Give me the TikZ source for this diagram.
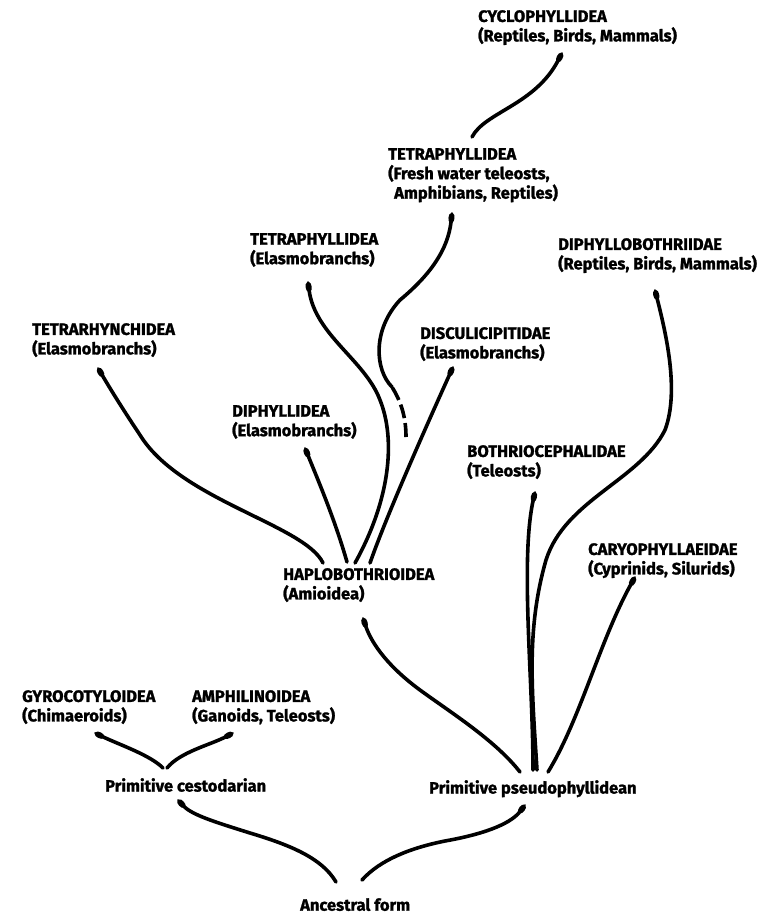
\documentclass[tikz,border=0pt]{standalone}
\usepackage{fontspec}
\setmainfont{Fira Sans}[BoldFeatures={FakeBold=1.4}]
\usetikzlibrary{arrows.meta}

\begin{document}
\begin{tikzpicture}[x=1pt,y=1pt,
  branch/.style={line width=3.6pt,line cap=round,-{Ellipse[length=10pt,width=6pt]}},
  lab/.style={anchor=north west,inner sep=0pt,align=left,
    font=\fontsize{16.5}{19.5}\selectfont\bfseries}]
\useasboundingbox (0,0) rectangle (759,-915);

\node[lab] (anc) at (300,-898) {Ancestral form};
\node[lab] (cest) at (105,-778) {Primitive cestodarian};
\node[lab] (pseudo) at (429,-780) {Primitive pseudophyllidean};
\node[lab] (gyro) at (22,-690) {GYROCOTYLOIDEA\\(Chimaeroids)};
\node[lab] (amphi) at (192,-690) {AMPHILINOIDEA\\(Ganoids, Teleosts)};
\node[lab] (haplo) at (283,-568) {HAPLOBOTHRIOIDEA\\(Amioidea)};
\node[lab] (caryo) at (588,-543) {CARYOPHYLLAEIDAE\\(Cyprinids, Silurids)};
\node[lab] (bothrio) at (467,-445) {BOTHRIOCEPHALIDAE\\(Teleosts)};
\node[lab] (diphyl) at (232,-405) {DIPHYLLIDEA\\(Elasmobranchs)};
\node[lab] (discul) at (420,-327) {DISCULICIPITIDAE\\(Elasmobranchs)};
\node[lab] (tetraR) at (32,-323) {TETRARHYNCHIDEA\\(Elasmobranchs)};
\node[lab] (tetraE) at (250,-233) {TETRAPHYLLIDEA\\(Elasmobranchs)};
\node[lab] (diphyllob) at (558,-238) {DIPHYLLOBOTHRIIDAE\\(Reptiles, Birds, Mammals)};
\node[lab] (tetraF) at (388,-148) {TETRAPHYLLIDEA\\(Fresh water teleosts,\\\hspace{6pt}Amphibians, Reptiles)};
\node[lab] (cyclo) at (478,-10) {CYCLOPHYLLIDEA\\(Reptiles, Birds, Mammals)};

\coordinate (gap) at (406,-437);
\coordinate (join) at (392,-387);

% ancestral form
\draw[branch] ([shift={(36,16)}]anc.north west) .. controls (322,-858) and (290,-845) .. (250,-833)
  .. controls (215,-822) and (192,-815) .. ([shift={(73,-22)}]cest.north west);
\draw[branch] ([shift={(62,18)}]anc.north west) .. controls (380,-860) and (410,-848) .. (445,-841)
  .. controls (490,-833) and (512,-822) .. ([shift={(96,-25)}]pseudo.north west);

% cestodarian
\draw[branch] ([shift={(58,10)}]cest.north west) .. controls (150,-755) and (120,-745) .. ([shift={(73,-43)}]gyro.north west);
\draw[branch] ([shift={(62,10)}]cest.north west) .. controls (180,-752) and (210,-745) .. ([shift={(41,-43)}]amphi.north west);

% pseudophyllidean
\draw[branch] ([shift={(91,8)}]pseudo.north west) .. controls (495,-740) and (450,-712) .. (420,-690)
  .. controls (390,-668) and (372,-645) .. ([shift={(80,-50)}]haplo.north west);
\draw[branch] ([shift={(104,10)}]pseudo.north west) .. controls (533,-680) and (520,-560) .. ([shift={(68,-47)}]bothrio.north west);
\draw[branch] ([shift={(108,10)}]pseudo.north west) .. controls (532,-690) and (526,-630) .. (546,-560)
  .. controls (565,-500) and (640,-480) .. (665,-430)
  .. controls (680,-390) and (665,-330) .. ([shift={(97,-52)}]diphyllob.north west);
\draw[branch] ([shift={(119,8)}]pseudo.north west) .. controls (580,-720) and (600,-640) .. ([shift={(47,-34)}]caryo.north west);

% haplobothrioidea
\draw[branch] ([shift={(40,5)}]haplo.north west) .. controls (305,-525) and (180,-500) .. (140,-435)
  .. controls (120,-405) and (108,-385) .. ([shift={(66,-45)}]tetraR.north west);
\draw[branch] ([shift={(64,6)}]haplo.north west) .. controls (335,-520) and (318,-480) .. ([shift={(73,-43)}]diphyl.north west);
\draw[branch] ([shift={(72,5)}]haplo.north west) .. controls (390,-500) and (396,-440) .. (380,-400)
  .. controls (365,-360) and (315,-335) .. ([shift={(58,-49)}]tetraE.north west);
\draw[branch] ([shift={(87,5)}]haplo.north west) .. controls (385,-520) and (420,-440) .. ([shift={(33,-40)}]discul.north west);

% fresh water line, broken below
\draw[line width=3.6pt,dash pattern=on 14pt off 5pt] (gap) .. controls (406,-415) and (400,-400) .. (join);
\draw[branch] (join) .. controls (375,-370) and (372,-330) .. (400,-300)
  .. controls (430,-275) and (448,-250) .. ([shift={(64,-65)}]tetraF.north west);
\draw[branch] ([shift={(84,11)}]tetraF.north west) .. controls (485,-112) and (535,-105) .. ([shift={(84,-43)}]cyclo.north west);
\end{tikzpicture}
\end{document}
